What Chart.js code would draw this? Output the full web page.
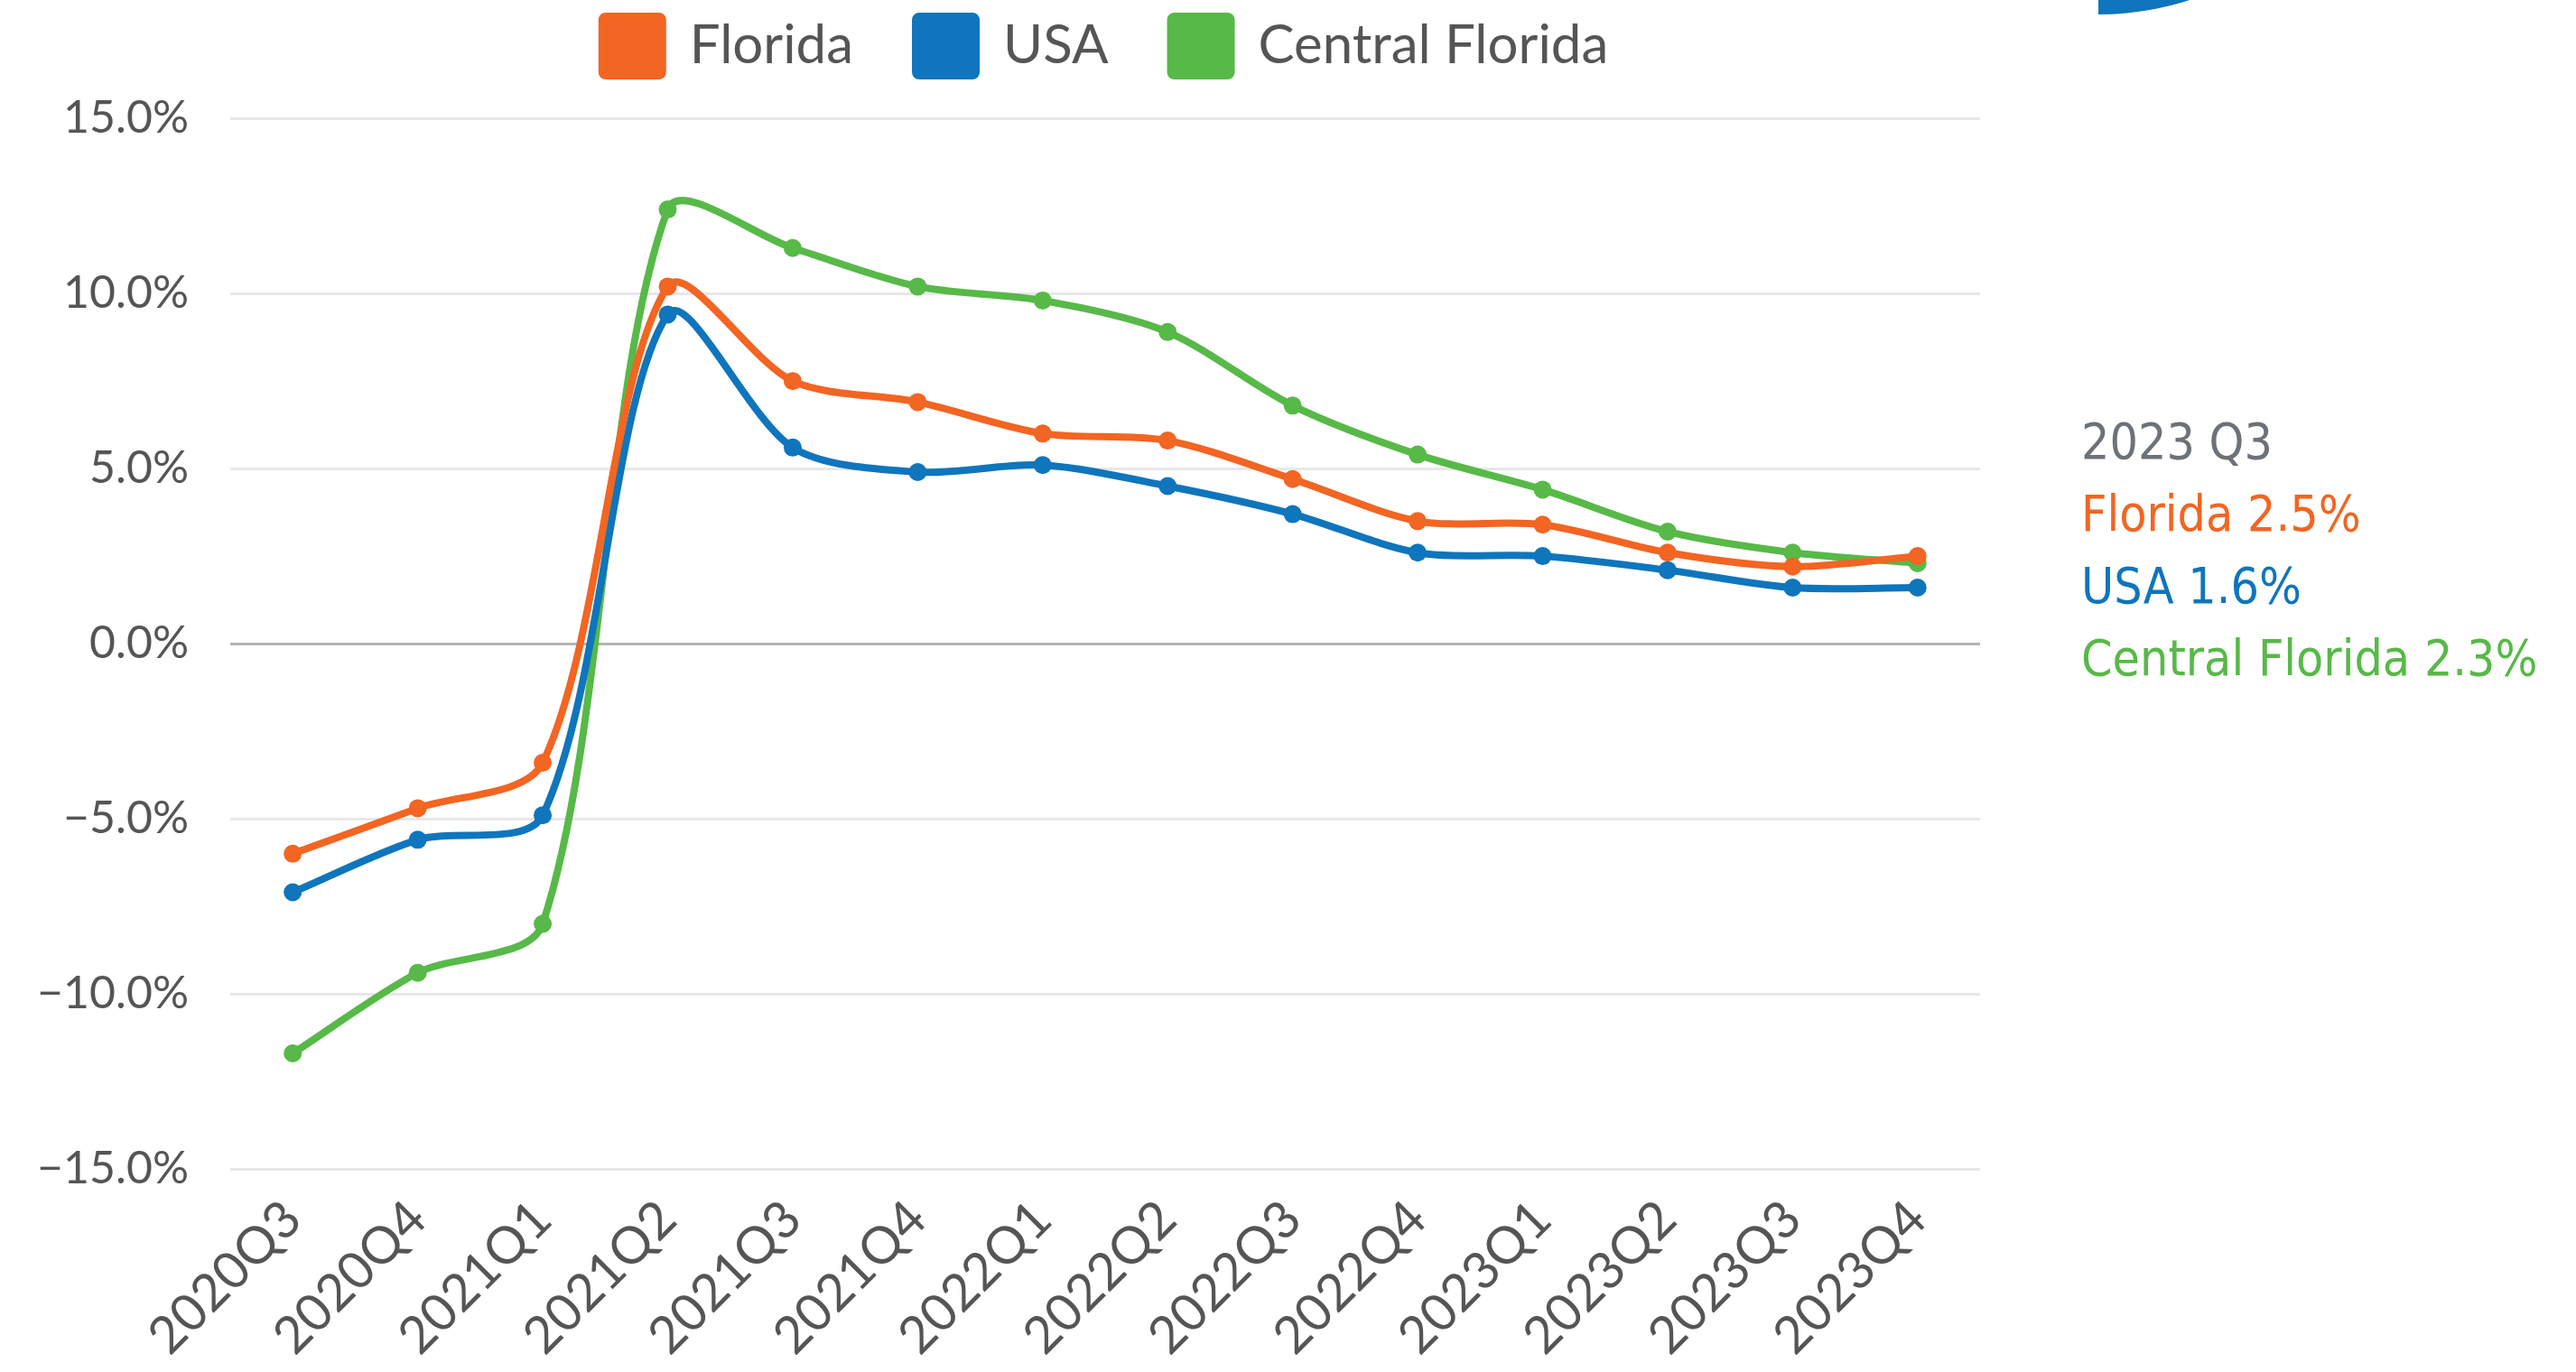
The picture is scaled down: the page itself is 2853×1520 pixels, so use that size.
<!DOCTYPE html>
<html>
<head>
<meta charset="utf-8">
<script src="https://cdn.jsdelivr.net/npm/chart.js@4"></script>
<style>
	body { margin: 0; background: #fff; }
	.page { position: relative; width: 2853px; height: 1520px; overflow: hidden; }
	.logo { position: absolute; left: 2324px; top: -311px; width: 327px; height: 327px; background: #0f75bc; border-bottom-right-radius: 100%; }
	.note { position: absolute; left: 2305px; top: 449px; font-family: "DejaVu Sans Condensed", "DejaVu Sans", sans-serif; font-stretch: condensed; font-size: 55px; line-height: 80px; white-space: nowrap; }
</style>
</head>
<body>
<div class="page">
	<canvas id="chart" width="2853" height="1520"></canvas>
	<div class="logo"></div>
	<div class="note">
		<div style="color:#6d7278">2023 Q3</div>
		<div style="color:#f26522">Florida 2.5%</div>
		<div style="color:#0f75bc">USA 1.6%</div>
		<div style="color:#57b947">Central Florida 2.3%</div>
	</div>
</div>
<script>
// |------------|
// |   Données  |
// |------------|

const quarters = ['2020Q3', '2020Q4', '2021Q1', '2021Q2', '2021Q3', '2021Q4', '2022Q1', '2022Q2', '2022Q3', '2022Q4', '2023Q1', '2023Q2', '2023Q3', '2023Q4']
const florida = [-6.0, -4.7, -3.4, 10.2, 7.5, 6.9, 6.0, 5.8, 4.7, 3.5, 3.4, 2.6, 2.2, 2.5]
const usa = [-7.1, -5.6, -4.9, 9.4, 5.6, 4.9, 5.1, 4.5, 3.7, 2.6, 2.5, 2.1, 1.6, 1.6]
const central_florida = [-11.7, -9.4, -8.0, 12.4, 11.3, 10.2, 9.8, 8.9, 6.8, 5.4, 4.4, 3.2, 2.6, 2.3]
const y_ticks = [-15, -10, -5, 0, 5, 10, 15]

const series_names = ['Florida', 'USA', 'Central Florida']
const series_colors = ['#f26522', '#0f75bc', '#57b947']

const font_family = 'Lato, "Open Sans", sans-serif'

function make_dataset(label, values, color) {
	return {
		label: label,
		data: values,
		borderColor: color,
		backgroundColor: color,
		borderWidth: 8,
		pointRadius: 10,
		pointBorderWidth: 0,
		tension: 0.3
	}
}

const datasets = [
	make_dataset(series_names[0], florida, series_colors[0]),
	make_dataset(series_names[1], usa, series_colors[1]),
	make_dataset(series_names[2], central_florida, series_colors[2])
]

new Chart(document.getElementById('chart'), {
	type: 'line',
	data: { labels: quarters, datasets: datasets },
	options: {
		responsive: false,
		animation: false,
		devicePixelRatio: 1,
		layout: { padding: { left: 0, right: 660, top: -51, bottom: 0 } },
		plugins: {
			legend: {
				display: true,
				position: 'top',
				fullSize: false,
				labels: {
					boxWidth: 67,
					boxHeight: 66,
					padding: 69,
					useBorderRadius: true,
					borderRadius: 4,
					color: '#555555',
					font: { family: font_family, size: 60 }
				}
			},
			// espace vide entre la légende et le graphique
			title: {
				display: true,
				text: '',
				weight: 500,
				fullSize: false,
				font: { size: 1 },
				padding: { top: 0, bottom: 36 }
			},
			tooltip: { enabled: false }
		},
		scales: {
			x: {
				offset: true,
				grid: { display: false },
				border: { display: false },
				ticks: {
					color: '#555555',
					font: { family: font_family, size: 57 },
					minRotation: 45,
					maxRotation: 45,
					padding: 14,
					autoSkip: false
				},
				afterFit: function(scale) { scale.height = 225 }
			},
			y: {
				min: -15,
				max: 15,
				border: { display: false },
				afterBuildTicks: function(scale) {
					scale.ticks = y_ticks.map(v => ({ value: v }))
				},
				grid: {
					drawTicks: false,
					lineWidth: 3,
					color: function(ctx) {
						return ctx.tick && ctx.tick.value === 0 ? '#b4b4b4' : '#e8e8e8'
					}
				},
				ticks: {
					color: '#555555',
					font: { family: font_family, size: 50 },
					padding: 46,
					callback: function(value) {
						return (value < 0 ? '\u2212' : '') + Math.abs(value).toFixed(1) + '%'
					}
				},
				afterFit: function(scale) { scale.width = 255 }
			}
		}
	}
})
</script>
</body>
</html>
